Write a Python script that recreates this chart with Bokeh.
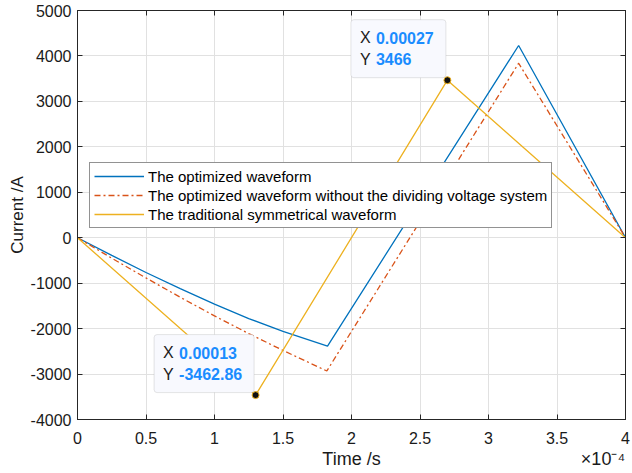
from bokeh.plotting import figure
from bokeh.embed import file_html
from bokeh.resources import INLINE
from bokeh.models import (Range1d, FixedTicker, CustomJSTickFormatter, LinearAxis,
                          BoxAnnotation, Label)

# ---------------- data ----------------
t_opt = [0, 0.25e-4, 0.5e-4, 0.75e-4, 1.0e-4, 1.25e-4, 1.5e-4, 1.825e-4, 3.22e-4, 4.0e-4]
i_opt = [0, -390, -765, -1120, -1460, -1780, -2060, -2384, 4230, 0]

t_nodiv = [0, 0.25e-4, 0.5e-4, 0.75e-4, 1.0e-4, 1.25e-4, 1.5e-4, 1.82e-4, 3.22e-4, 4.0e-4]
i_nodiv = [0, -450, -885, -1310, -1720, -2110, -2480, -2932, 3840, 0]

t_trad = [0, 1.3e-4, 2.7e-4, 4.0e-4]
i_trad = [0, -3462.86, 3466, 0]

names = ["The optimized waveform",
         "The optimized waveform without the dividing voltage system",
         "The traditional symmetrical waveform"]

x_ticks = [0, 0.5e-4, 1.0e-4, 1.5e-4, 2.0e-4, 2.5e-4, 3.0e-4, 3.5e-4, 4.0e-4]
y_ticks = [-4000, -3000, -2000, -1000, 0, 1000, 2000, 3000, 4000, 5000]

x_title = "Time /s"
x_exponent = "×10⁻⁴"
y_title = "Current /A"

# data tips: the two extreme points of the traditional waveform
tip_idx = [1, 2]
tip_w = [100, 95]

FONT = "Liberation Sans"
AX = "#262626"
TXT = "#1a1a1a"
W, H = 632, 473
ML, MR, MT, MB = 77, 7, 10, 54

p = figure(width=W, height=H, x_range=Range1d(0, 4e-4), y_range=Range1d(-4000, 5000),
           output_backend="svg", toolbar_location=None,
           min_border_left=ML, min_border_right=MR, min_border_top=MT, min_border_bottom=MB)
p.background_fill_color = "white"
p.border_fill_color = "white"
p.outline_line_color = AX
p.outline_line_width = 1

frame_w = W - ML - MR
frame_h = H - MT - MB
dxpx = 4e-4 / frame_w
dypx = 9000 / frame_h

xfmt = CustomJSTickFormatter(code="return String(Math.round(tick*1e5)/10);")
yfmt = CustomJSTickFormatter(code="return tick.toFixed(0);")

for ax in (p.xaxis[0], p.yaxis[0]):
    ax.axis_line_color = AX
    ax.major_tick_line_color = AX
    ax.major_tick_in = 5
    ax.major_tick_out = 0
    ax.minor_tick_line_color = None
    ax.major_label_text_font = FONT
    ax.major_label_text_font_size = "16px"
    ax.major_label_text_color = TXT
    ax.axis_label_text_font = FONT
    ax.axis_label_text_font_style = "normal"
    ax.axis_label_text_color = TXT

p.xaxis[0].ticker = FixedTicker(ticks=x_ticks)
p.xaxis[0].formatter = xfmt
p.xaxis[0].major_label_standoff = 12

p.yaxis[0].ticker = FixedTicker(ticks=y_ticks)
p.yaxis[0].formatter = yfmt
p.yaxis[0].axis_label = y_title
p.yaxis[0].axis_label_text_font_size = "17px"
p.yaxis[0].major_label_standoff = 6
p.yaxis[0].axis_label_standoff = 1

# second row below the x axis: the axis title (centred) and the exponent (right)
x_title_pos = 2.0e-4
x_exp_pos = 4e-4 - 22.5 * dxpx
title_ax = LinearAxis(ticker=FixedTicker(ticks=[x_title_pos, x_exp_pos]),
                      major_label_overrides={x_title_pos: x_title, x_exp_pos: x_exponent},
                      axis_line_color=None, major_tick_line_color=None,
                      minor_tick_line_color=None, major_tick_in=0, major_tick_out=0,
                      major_label_standoff=2, major_label_text_font=FONT,
                      major_label_text_font_size="18px", major_label_text_color=TXT)
p.add_layout(title_ax, "below")

# box-style ticks on top and right
top_ax = LinearAxis(ticker=FixedTicker(ticks=x_ticks), major_label_text_font_size="0px",
                    major_label_standoff=0, major_tick_in=5, major_tick_out=0,
                    minor_tick_line_color=None, axis_line_color=AX, major_tick_line_color=AX)
right_ax = LinearAxis(ticker=FixedTicker(ticks=y_ticks), major_label_text_font_size="0px",
                      major_label_standoff=0, major_tick_in=5, major_tick_out=0,
                      minor_tick_line_color=None, axis_line_color=AX, major_tick_line_color=AX)
p.add_layout(top_ax, "above")
p.add_layout(right_ax, "right")

p.xgrid.ticker = FixedTicker(ticks=x_ticks)
p.ygrid.ticker = FixedTicker(ticks=y_ticks)
p.xgrid.grid_line_color = "#e1e1e1"
p.ygrid.grid_line_color = "#e1e1e1"
p.xgrid.grid_line_width = 1
p.ygrid.grid_line_width = 1

p.line(t_opt, i_opt, line_color="#0072BD", line_width=1.3, legend_label=names[0])
p.line(t_nodiv, i_nodiv, line_color="#D95319", line_width=1.3, line_dash="6 3 2 3",
       legend_label=names[1])
p.line(t_trad, i_trad, line_color="#EDB120", line_width=1.3, legend_label=names[2])

lg = p.legend[0]
lg.location = (12, 191)
lg.label_text_font = FONT
lg.label_text_font_size = "15px"
lg.label_text_color = "#000000"
lg.glyph_width = 50
lg.glyph_height = 18
lg.label_height = 18
lg.label_standoff = 4
lg.spacing = 1
lg.padding = 4
lg.margin = 0
lg.border_line_color = AX
lg.border_line_width = 1
lg.background_fill_alpha = 1.0

# ---------------- data tips ----------------
tip_x = [t_trad[k] for k in tip_idx]
tip_y = [i_trad[k] for k in tip_idx]

for x0, y0, bw in zip(tip_x, tip_y, tip_w):
    right = x0 - 1.5 * dxpx
    left = right - bw * dxpx
    bottom = y0 + 2.5 * dypx
    top = bottom + 58 * dypx
    p.add_layout(BoxAnnotation(left=left, right=right, bottom=bottom, top=top,
                               fill_color="#f8f9fe", fill_alpha=1.0,
                               line_color="#a9a9a9", line_width=1, border_radius=3))
    for yo, key, val in ((40, "X", f"{x0:.5f}"), (18.5, "Y", f"{y0:g}")):
        p.add_layout(Label(x=left, y=bottom, x_offset=9, y_offset=yo, text=key,
                           text_baseline="middle", text_align="left", text_font=FONT,
                           text_font_size="16px", text_color=TXT))
        p.add_layout(Label(x=left, y=bottom, x_offset=25, y_offset=yo, text=val,
                           text_baseline="middle", text_align="left", text_font=FONT,
                           text_font_size="16px", text_font_style="bold",
                           text_color="#1a8cff"))

p.scatter(tip_x, tip_y, size=7, fill_color="#111111", line_color="#EDB120", line_width=1)

open("out.html", "w").write(file_html(p, INLINE))
